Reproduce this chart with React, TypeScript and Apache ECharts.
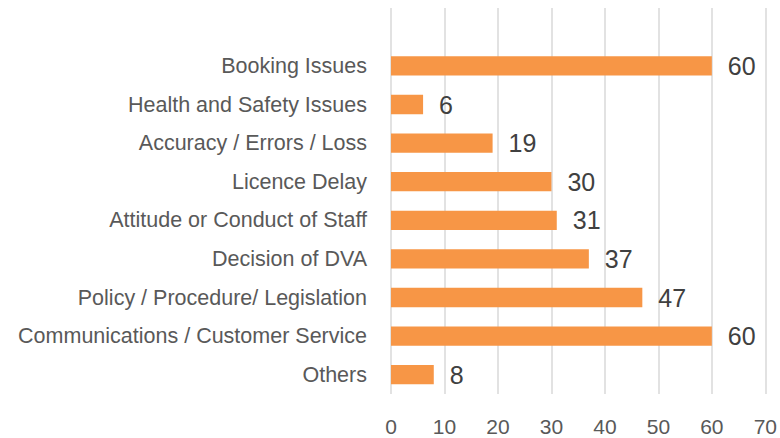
import React, { useEffect, useRef } from "react";
import * as echarts from "echarts";

const categories: string[] = [
  "",
  "Booking Issues",
  "Health and Safety Issues",
  "Accuracy / Errors / Loss",
  "Licence Delay",
  "Attitude or Conduct of Staff",
  "Decision of DVA",
  "Policy / Procedure/ Legislation",
  "Communications / Customer Service",
  "Others",
];
const values: (number | string)[] = ["-", 60, 6, 19, 30, 31, 37, 47, 60, 8];
const axisMin = 0;
const axisMax = 70;
const axisInterval = 10;

const FONT = "Liberation Sans, Arial, sans-serif";

export default function App() {
  const ref = useRef<HTMLDivElement>(null);
  useEffect(() => {
    if (!ref.current) return;
    const chart = echarts.init(ref.current, undefined, { renderer: "svg" });
    chart.setOption({
      animation: false,
      backgroundColor: "#ffffff",
      grid: { left: 391, right: 11, top: 8, bottom: 44, containLabel: false },
      xAxis: {
        type: "value",
        min: axisMin,
        max: axisMax,
        interval: axisInterval,
        axisLine: { show: false },
        axisTick: { show: false },
        splitLine: { show: true, lineStyle: { color: "#D9D9D9", width: 1.5 } },
        axisLabel: {
          color: "#595959",
          fontSize: 21,
          fontFamily: FONT,
          margin: 22,
        },
      },
      yAxis: {
        type: "category",
        data: categories,
        inverse: true,
        axisLine: { show: false },
        axisTick: { show: false },
        axisLabel: {
          color: "#595959",
          fontSize: 21.5,
          fontFamily: FONT,
          margin: 24,
        },
      },
      series: [
        {
          type: "bar",
          data: values,
          barCategoryGap: "50%",
          itemStyle: { color: "#F79646" },
          label: {
            show: true,
            position: "right",
            distance: 16,
            color: "#404040",
            fontSize: 25,
            fontFamily: FONT,
          },
        },
      ],
    });
    return () => chart.dispose();
  }, []);
  return (
    <div
      ref={ref}
      style={{ position: "fixed", left: 0, top: 0, width: 780, height: 438 }}
    />
  );
}
